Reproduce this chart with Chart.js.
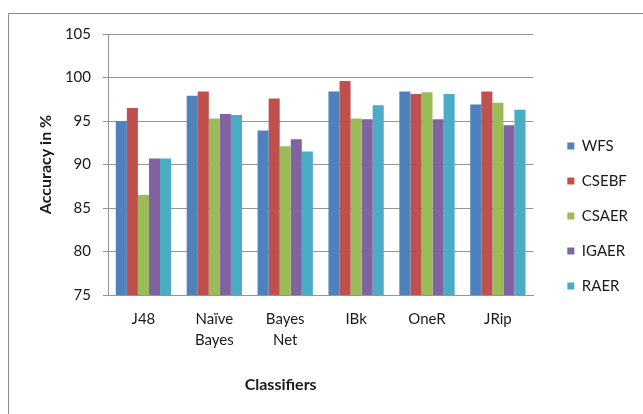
<!DOCTYPE html>
<html>
<head>
<meta charset="utf-8">
<script src="https://cdn.jsdelivr.net/npm/chart.js@4"></script>
<style>
  html, body { margin: 0; padding: 0; background: #fff; }
  #wrap { width: 643px; height: 414px; position: relative; }
</style>
</head>
<body>
<div id="wrap"><canvas id="c" width="643" height="414"></canvas></div>
<script>
const categories = [['J48'], ['Naïve', 'Bayes'], ['Bayes', 'Net'], ['IBk'], ['OneR'], ['JRip']];
const seriesNames = ['WFS', 'CSEBF', 'CSAER', 'IGAER', 'RAER'];
const wfs   = [95.0, 97.9, 93.9, 98.4, 98.4, 96.9];
const csebf = [96.5, 98.4, 97.6, 99.6, 98.1, 98.4];
const csaer = [86.5, 95.3, 92.1, 95.3, 98.3, 97.1];
const igaer = [90.7, 95.8, 92.9, 95.2, 95.2, 94.5];
const raer  = [90.7, 95.7, 91.5, 96.8, 98.1, 96.3];
const yTicks = [75, 80, 85, 90, 95, 100, 105];
const colors = ['#4F81BD', '#C0504D', '#9BBB59', '#8064A2', '#4BACC6'];
const xTitle = 'Classifiers';
const yTitle = 'Accuracy in %';

const seriesValues = [wfs, csebf, csaer, igaer, raer];
const FONT = 'Lato, "Open Sans", sans-serif';
const TXT = '#1a1a1a';
const GRID = '#959595';

const framePlugin = {
  id: 'frame',
  beforeDraw(chart) {
    const ctx = chart.ctx;
    ctx.save();
    ctx.strokeStyle = '#8c8c8c';
    ctx.lineWidth = 1;
    ctx.strokeRect(8.5, 13.5, 2000, 2000);
    ctx.restore();
  },
  afterLayout(chart, args, opts) {
    const lg = chart.legend;
    if (lg) {
      lg.left += opts.dx; lg.right += opts.dx;
      lg.top += opts.dy; lg.bottom += opts.dy;
    }
  },
  afterDraw(chart, args, opts) {
    const ctx = chart.ctx;
    const area = chart.chartArea;
    ctx.save();
    ctx.font = 'bold 16px ' + FONT;
    ctx.fillStyle = TXT;
    ctx.textAlign = 'center';
    ctx.textBaseline = 'middle';
    ctx.fillText(xTitle, (area.left + area.right) / 2 + opts.titleDx, opts.titleY);
    ctx.restore();
  }
};

new Chart(document.getElementById('c'), {
  type: 'bar',
  data: {
    labels: categories,
    datasets: seriesNames.map((n, i) => ({
      label: n,
      data: seriesValues[i],
      backgroundColor: colors[i],
      borderWidth: 0,
      categoryPercentage: 0.78,
      barPercentage: 1.0
    }))
  },
  options: {
    responsive: false,
    animation: false,
    devicePixelRatio: 1,
    layout: { padding: { left: 0, top: 34, right: 19, bottom: 0 } },
    plugins: {
      tooltip: { enabled: false },
      frame: { dx: 14, dy: -8, titleDx: -40, titleY: 385 },
      legend: {
        position: 'right',
        labels: {
          boxWidth: 7,
          boxHeight: 7,
          padding: 20,
          color: TXT,
          font: { family: FONT, size: 15 }
        }
      }
    },
    scales: {
      x: {
        grid: { display: false, drawTicks: false },
        border: { display: true, color: GRID },
        ticks: {
          color: TXT,
          padding: 14,
          maxRotation: 0,
          autoSkip: false,
          font: { family: FONT, size: 15, lineHeight: 1.4 }
        },
        afterFit(scale) { scale.height = 119; }
      },
      y: {
        min: 75,
        max: 105,
        afterBuildTicks(scale) { scale.ticks = yTicks.map(v => ({ value: v })); },
        grid: { color: GRID, lineWidth: 1, drawTicks: true, tickLength: 5 },
        border: { display: true, color: GRID },
        ticks: {
          color: TXT,
          padding: 12,
          font: { family: FONT, size: 15 }
        },
        title: {
          display: true,
          text: yTitle,
          color: TXT,
          padding: { top: 36, bottom: 0 },
          font: { family: FONT, size: 16, weight: 'bold' }
        },
        afterFit(scale) { scale.width = 108; }
      }
    }
  },
  plugins: [framePlugin]
});
</script>
</body>
</html>
